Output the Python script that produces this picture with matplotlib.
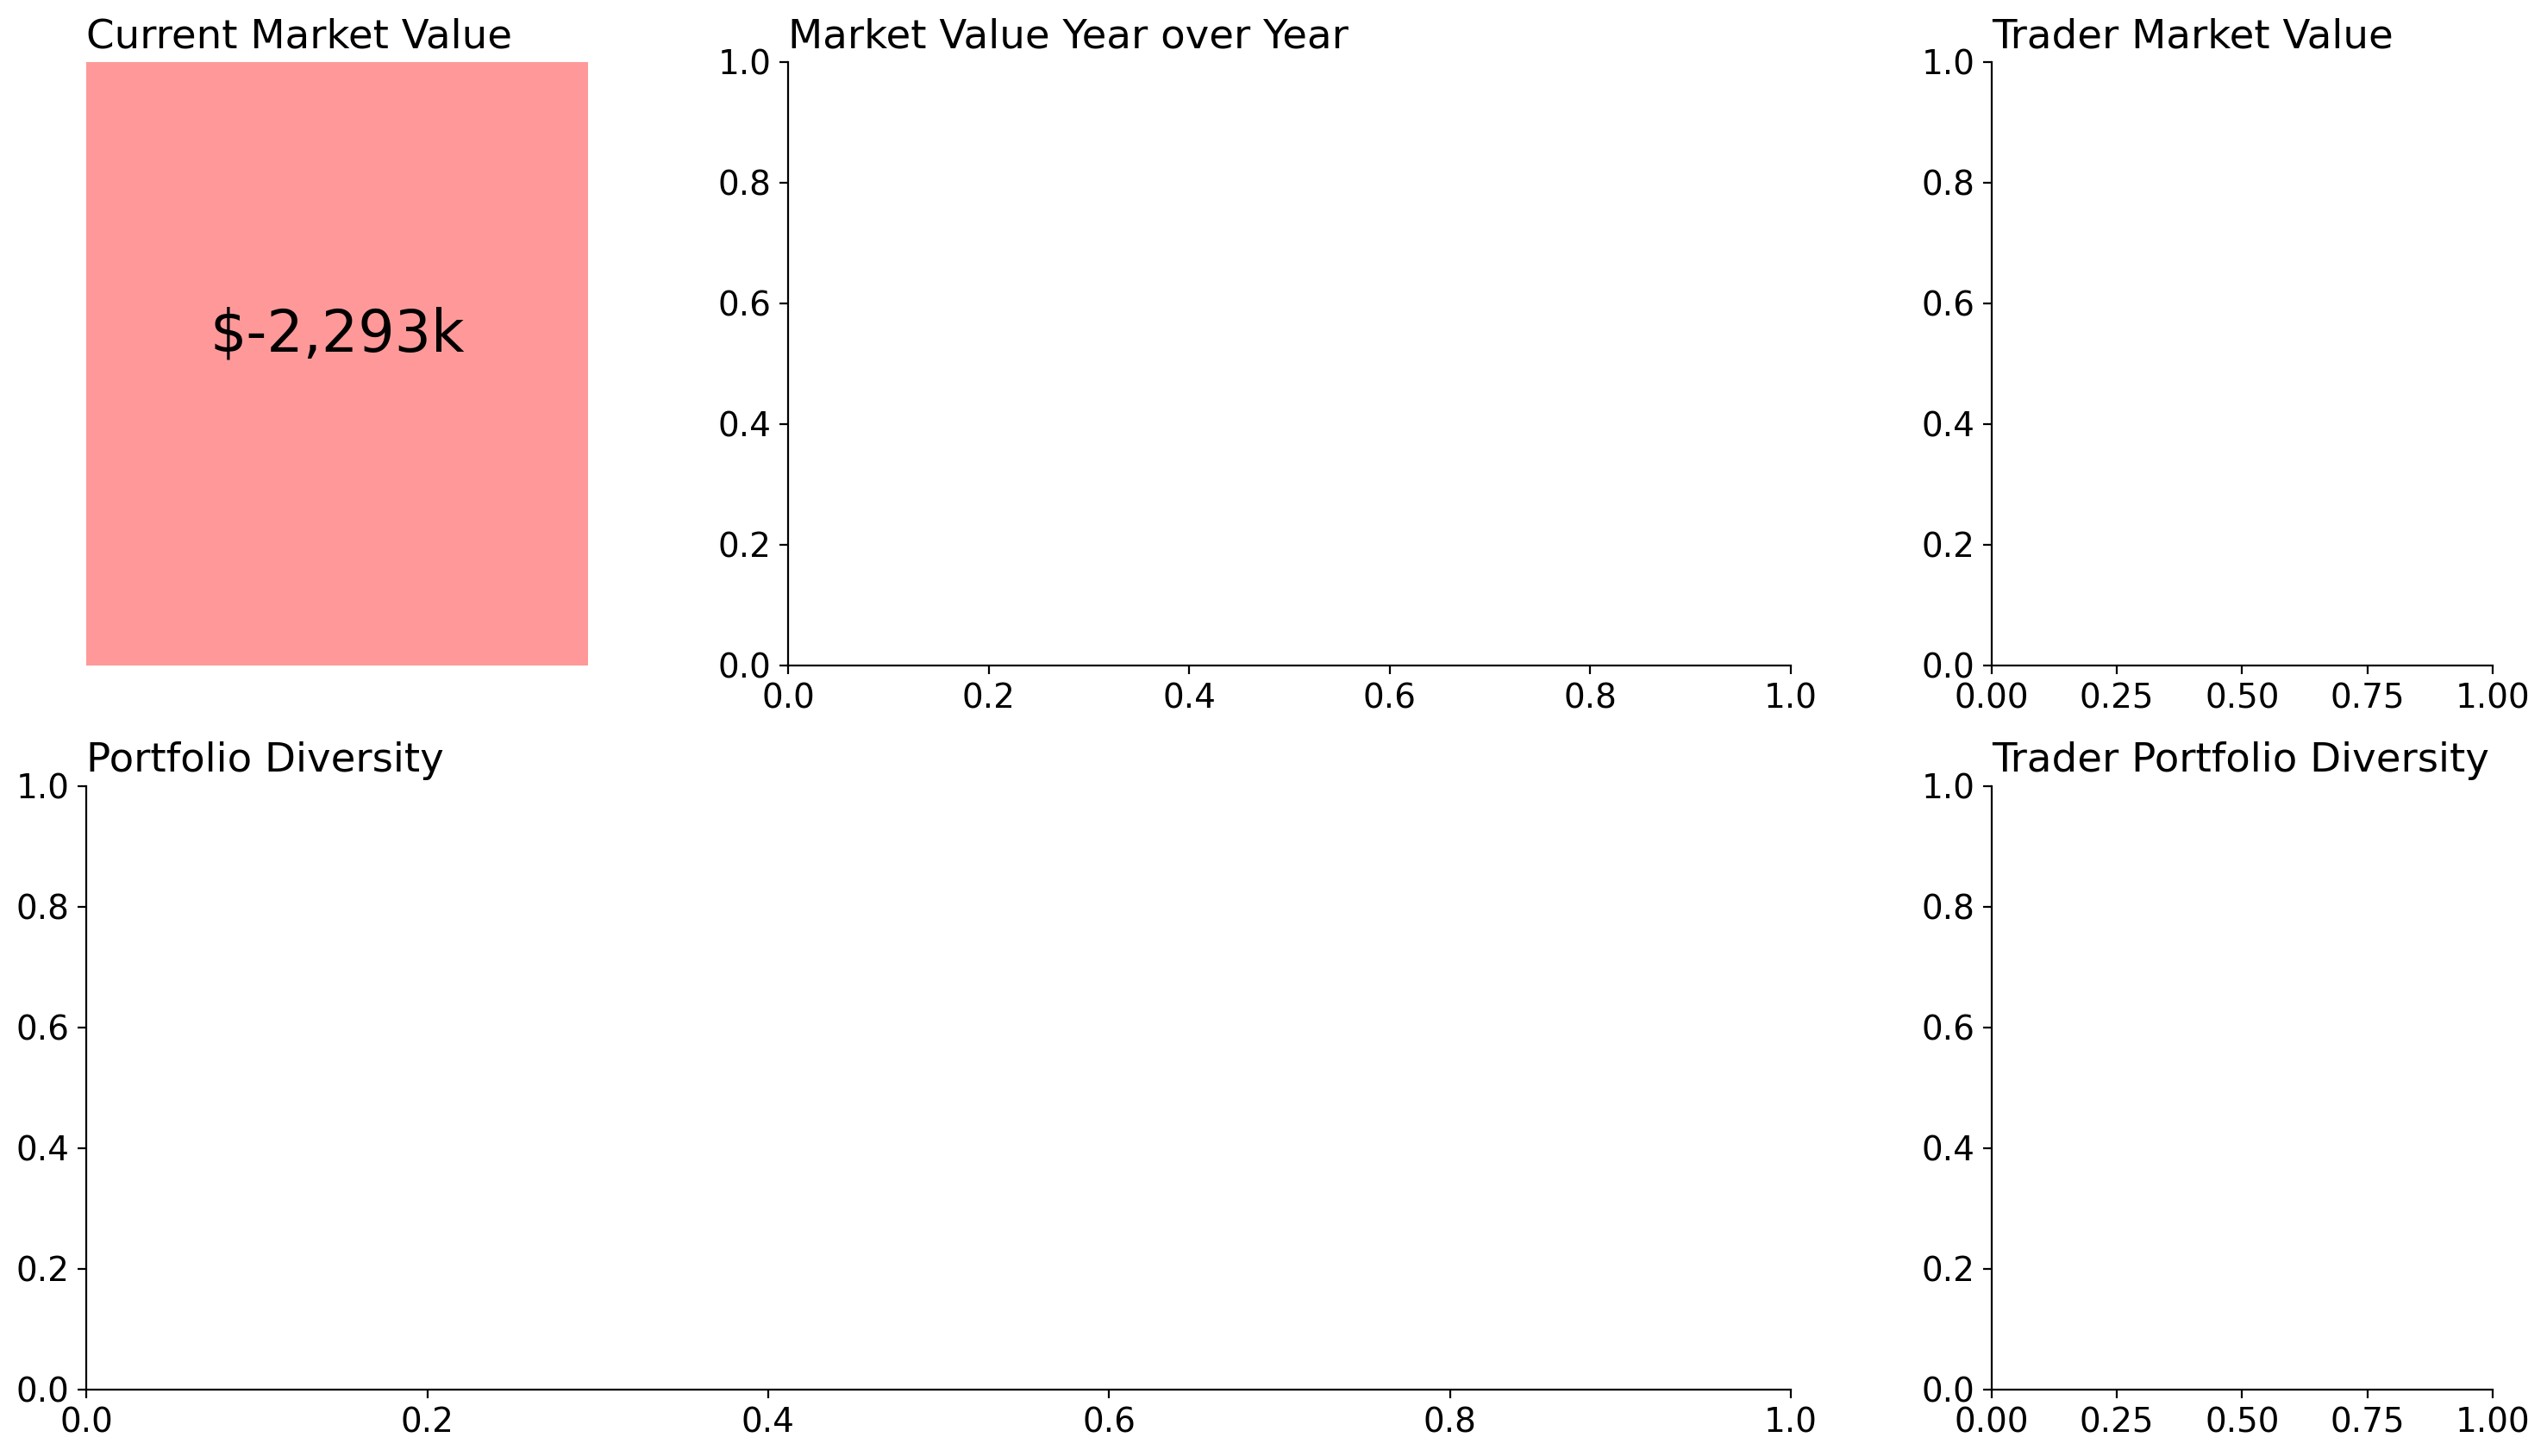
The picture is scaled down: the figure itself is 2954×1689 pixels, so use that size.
import matplotlib
matplotlib.use("Agg")
import matplotlib.pyplot as plt

plt.rcParams['font.size'] = 14

titles = ["Current Market Value", "Market Value Year over Year", "Trader Market Value",
          "Portfolio Diversity", "Trader Portfolio Diversity"]
current_value = -2293  # in thousands
value_color = '#ff9999'

fig = plt.figure(figsize=(14.77, 8.445), dpi=200)
gs = fig.add_gridspec(2, 3, width_ratios=[1, 2, 1], wspace=0.3, hspace=0.2,
                      left=0.0339, right=0.9787, top=0.9574, bottom=0.0456)

ax_cur = fig.add_subplot(gs[0, 0])
ax_yoy = fig.add_subplot(gs[0, 1])
ax_trader = fig.add_subplot(gs[0, 2])
ax_div = fig.add_subplot(gs[1, 0:2])
ax_tdiv = fig.add_subplot(gs[1, 2])

# big number tile
ax_cur.set_facecolor(value_color)
ax_cur.text(0.5, 0.5, f"${current_value:,}k", ha='center', va='bottom', fontsize=24,
            transform=ax_cur.transAxes)
ax_cur.set_xticks([])
ax_cur.set_yticks([])
for s in ax_cur.spines.values():
    s.set_visible(False)

axes = [ax_cur, ax_yoy, ax_trader, ax_div, ax_tdiv]
for ax, t in zip(axes, titles):
    ax.set_title(t, loc='left')
    ax.spines['top'].set_visible(False)
    ax.spines['right'].set_visible(False)

fig.savefig("out.png", dpi=200)
